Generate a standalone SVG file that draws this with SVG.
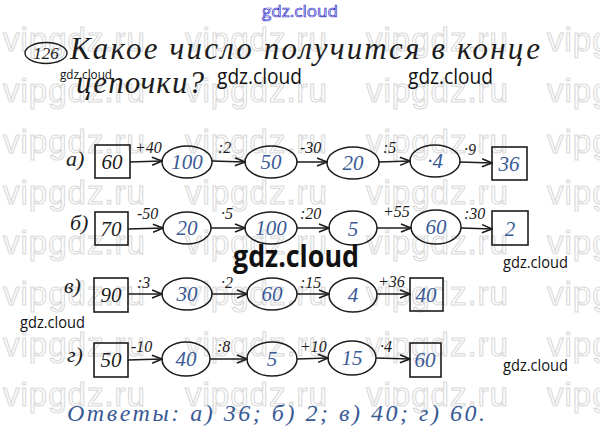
<svg xmlns="http://www.w3.org/2000/svg" width="600" height="440" viewBox="0 0 600 440">
<defs>
<style>
.wm{font-family:"Liberation Sans",Arial,sans-serif;font-size:33px;letter-spacing:1px;fill:none;stroke:#dadada;stroke-width:1.1}
.gc{font-family:"Open Sans","Noto Sans",sans-serif;fill:#111}
.hw{font-family:"Liberation Serif","DejaVu Serif",serif;font-style:italic;fill:#1c1c1c}
.bl{font-family:"Liberation Serif","DejaVu Serif",serif;font-style:italic;fill:#3a5a96}
.lbl{font-family:"Liberation Serif","DejaVu Serif",serif;font-style:italic;fill:#1c1c1c;font-size:16px}
.box{fill:none;stroke:#1c1c1c;stroke-width:1.6}
.ov{fill:none;stroke:#1c1c1c;stroke-width:1.5}
.ar{fill:none;stroke:#1c1c1c;stroke-width:1.5;marker-end:url(#ah)}
.num{font-size:21px;text-anchor:middle}
</style>
<marker id="ah" viewBox="0 0 12 10" refX="11" refY="5" markerWidth="12" markerHeight="10" markerUnits="userSpaceOnUse" orient="auto">
<polyline points="1,1 11,5 1,9" fill="none" stroke="#1c1c1c" stroke-width="1.5"/>
</marker>
</defs>
<rect width="600" height="440" fill="#ffffff"/>

<g id="watermark-vipgdz">
<text class="wm" x="3" y="51">vipgdz.ru</text><text class="wm" x="185" y="51">vipgdz.ru</text><text class="wm" x="366" y="51">vipgdz.ru</text><text class="wm" x="547" y="51">vipgdz.ru</text>
<text class="wm" x="3" y="102">vipgdz.ru</text><text class="wm" x="185" y="102">vipgdz.ru</text><text class="wm" x="366" y="102">vipgdz.ru</text><text class="wm" x="547" y="102">vipgdz.ru</text>
<text class="wm" x="3" y="153">vipgdz.ru</text><text class="wm" x="185" y="153">vipgdz.ru</text><text class="wm" x="366" y="153">vipgdz.ru</text><text class="wm" x="547" y="153">vipgdz.ru</text>
<text class="wm" x="3" y="204">vipgdz.ru</text><text class="wm" x="185" y="204">vipgdz.ru</text><text class="wm" x="366" y="204">vipgdz.ru</text><text class="wm" x="547" y="204">vipgdz.ru</text>
<text class="wm" x="3" y="254">vipgdz.ru</text><text class="wm" x="185" y="254">vipgdz.ru</text><text class="wm" x="366" y="254">vipgdz.ru</text><text class="wm" x="547" y="254">vipgdz.ru</text>
<text class="wm" x="3" y="305">vipgdz.ru</text><text class="wm" x="185" y="305">vipgdz.ru</text><text class="wm" x="366" y="305">vipgdz.ru</text><text class="wm" x="547" y="305">vipgdz.ru</text>
<text class="wm" x="3" y="356">vipgdz.ru</text><text class="wm" x="185" y="356">vipgdz.ru</text><text class="wm" x="366" y="356">vipgdz.ru</text><text class="wm" x="547" y="356">vipgdz.ru</text>
<text class="wm" x="3" y="406">vipgdz.ru</text><text class="wm" x="185" y="406">vipgdz.ru</text><text class="wm" x="366" y="406">vipgdz.ru</text><text class="wm" x="547" y="406">vipgdz.ru</text>
</g>

<g id="title">
<ellipse cx="46" cy="53" rx="21" ry="10.5" fill="none" stroke="#1c1c1c" stroke-width="1.4"/>
<text class="hw" x="46" y="59" font-size="17" text-anchor="middle">126</text>
<text class="hw" x="70" y="59" font-size="31" textLength="470" lengthAdjust="spacing">Какое число получится в конце</text>
<text class="hw" x="76" y="93" font-size="31" textLength="128" lengthAdjust="spacing">цепочки?</text>
</g>

<g id="row-a">
<text class="hw" x="66" y="166" font-size="22">а)</text>
<g id="a0"><rect class="box" x="95" y="145" width="35" height="33"/><text class="hw num" x="112" y="169">60</text></g>
<g id="a1"><ellipse class="ov" cx="187" cy="162" rx="25" ry="16"/><text class="bl num" x="187" y="169">100</text></g>
<g id="a2"><ellipse class="ov" cx="271" cy="162" rx="26" ry="16"/><text class="bl num" x="271" y="169">50</text></g>
<g id="a3"><ellipse class="ov" cx="353" cy="163" rx="26" ry="16"/><text class="bl num" x="353" y="170">20</text></g>
<g id="a4"><ellipse class="ov" cx="435" cy="161" rx="25" ry="16"/><text class="bl num" x="435" y="168">·4</text></g>
<g id="a5"><rect class="box" x="492" y="147" width="35" height="33"/><text class="bl num" x="509" y="171">36</text></g>
</g>

<g id="row-b">
<text class="hw" x="70" y="230" font-size="22">б)</text>
<g id="b0"><rect class="box" x="95" y="212" width="33" height="33"/><text class="hw num" x="111" y="236">70</text></g>
<g id="b1"><ellipse class="ov" cx="187" cy="228" rx="24" ry="16"/><text class="bl num" x="187" y="235">20</text></g>
<g id="b2"><ellipse class="ov" cx="271" cy="228" rx="26" ry="16"/><text class="bl num" x="271" y="235">100</text></g>
<g id="b3"><ellipse class="ov" cx="353" cy="228" rx="24" ry="17"/><text class="bl num" x="353" y="236">5</text></g>
<g id="b4"><ellipse class="ov" cx="436" cy="227" rx="25" ry="17"/><text class="bl num" x="436" y="234">60</text></g>
<g id="b5"><rect class="box" x="492" y="211" width="36" height="34"/><text class="bl num" x="510" y="236">2</text></g>
</g>

<g id="row-c">
<text class="hw" x="64" y="293" font-size="22">в)</text>
<g id="c0"><rect class="box" x="94" y="278" width="34" height="34"/><text class="hw num" x="111" y="302">90</text></g>
<g id="c1"><ellipse class="ov" cx="187" cy="294" rx="25" ry="16"/><text class="bl num" x="187" y="301">30</text></g>
<g id="c2"><ellipse class="ov" cx="272" cy="294" rx="25" ry="16"/><text class="bl num" x="272" y="301">60</text></g>
<g id="c3"><ellipse class="ov" cx="353" cy="295" rx="24" ry="17"/><text class="bl num" x="353" y="302">4</text></g>
<g id="c4"><rect class="box" x="410" y="278" width="33" height="33"/><text class="bl num" x="426" y="302">40</text></g>
</g>

<g id="row-d">
<text class="hw" x="67" y="362" font-size="22">г)</text>
<g id="d0"><rect class="box" x="94" y="343" width="34" height="34"/><text class="hw num" x="111" y="367">50</text></g>
<g id="d1"><ellipse class="ov" cx="186" cy="359" rx="24" ry="17"/><text class="bl num" x="186" y="366">40</text></g>
<g id="d2"><ellipse class="ov" cx="272" cy="359" rx="25" ry="17"/><text class="bl num" x="272" y="366">5</text></g>
<g id="d3"><ellipse class="ov" cx="352" cy="358" rx="24" ry="17"/><text class="bl num" x="352" y="365">15</text></g>
<g id="d4"><rect class="box" x="410" y="343" width="31" height="34"/><text class="bl num" x="425" y="367">60</text></g>
</g>

<g id="connectors">
<line class="ar" x1="130" y1="162" x2="162" y2="161"/>
<line class="ar" x1="212" y1="161" x2="245" y2="162"/>
<line class="ar" x1="297" y1="162" x2="327" y2="162"/>
<line class="ar" x1="379" y1="162" x2="410" y2="161"/>
<line class="ar" x1="460" y1="162" x2="492" y2="163"/>
<line class="ar" x1="128" y1="229" x2="163" y2="228"/>
<line class="ar" x1="211" y1="228" x2="245" y2="228"/>
<line class="ar" x1="297" y1="228" x2="329" y2="228"/>
<line class="ar" x1="377" y1="228" x2="411" y2="228"/>
<line class="ar" x1="461" y1="228" x2="492" y2="229"/>
<line class="ar" x1="128" y1="294" x2="162" y2="294"/>
<line class="ar" x1="212" y1="294" x2="247" y2="294"/>
<line class="ar" x1="297" y1="294" x2="329" y2="294"/>
<line class="ar" x1="377" y1="294" x2="410" y2="294"/>
<line class="ar" x1="128" y1="360" x2="162" y2="359"/>
<line class="ar" x1="210" y1="359" x2="247" y2="359"/>
<line class="ar" x1="297" y1="359" x2="328" y2="358"/>
<line class="ar" x1="376" y1="358" x2="410" y2="359"/>
<text class="lbl" x="135" y="153">+40</text>
<text class="lbl" x="218" y="153">:2</text>
<text class="lbl" x="300" y="153">-30</text>
<text class="lbl" x="383" y="153">:5</text>
<text class="lbl" x="464" y="155">·9</text>
<text class="lbl" x="137" y="219">-50</text>
<text class="lbl" x="221" y="219">·5</text>
<text class="lbl" x="300" y="219">:20</text>
<text class="lbl" x="383" y="217">+55</text>
<text class="lbl" x="464" y="219">:30</text>
<text class="lbl" x="137" y="288">:3</text>
<text class="lbl" x="221" y="288">·2</text>
<text class="lbl" x="300" y="288">:15</text>
<text class="lbl" x="378" y="287">+36</text>
<text class="lbl" x="131" y="352">-10</text>
<text class="lbl" x="217" y="352">:8</text>
<text class="lbl" x="300" y="352">+10</text>
<text class="lbl" x="380" y="352">·4</text>
</g>

<g id="answer">
<text class="bl" x="67" y="421" font-size="24" textLength="418" lengthAdjust="spacing">Ответы: а) 36; б) 2; в) 40; г) 60.</text>
</g>

<g id="watermark-gdz">
<text x="300" y="17" font-family="'Open Sans','Noto Sans',sans-serif" font-size="16" fill="#ffffff" stroke="#3333cc" stroke-width="0.7" text-anchor="middle" textLength="76" lengthAdjust="spacingAndGlyphs">gdz.cloud</text>
<text class="gc" x="60" y="79" font-size="13" textLength="52" lengthAdjust="spacingAndGlyphs">gdz.cloud</text>
<text class="gc" x="217" y="84" font-size="22" textLength="85" lengthAdjust="spacingAndGlyphs">gdz.cloud</text>
<text class="gc" x="408" y="84" font-size="22" textLength="85" lengthAdjust="spacingAndGlyphs">gdz.cloud</text>
<text class="gc" x="233" y="267" font-size="30" font-weight="bold" textLength="126" lengthAdjust="spacingAndGlyphs">gdz.cloud</text>
<text class="gc" x="503" y="268" font-size="17" textLength="65" lengthAdjust="spacingAndGlyphs">gdz.cloud</text>
<text class="gc" x="20" y="328" font-size="17" textLength="65" lengthAdjust="spacingAndGlyphs">gdz.cloud</text>
<text class="gc" x="503" y="371" font-size="17" textLength="65" lengthAdjust="spacingAndGlyphs">gdz.cloud</text>
</g>
</svg>
